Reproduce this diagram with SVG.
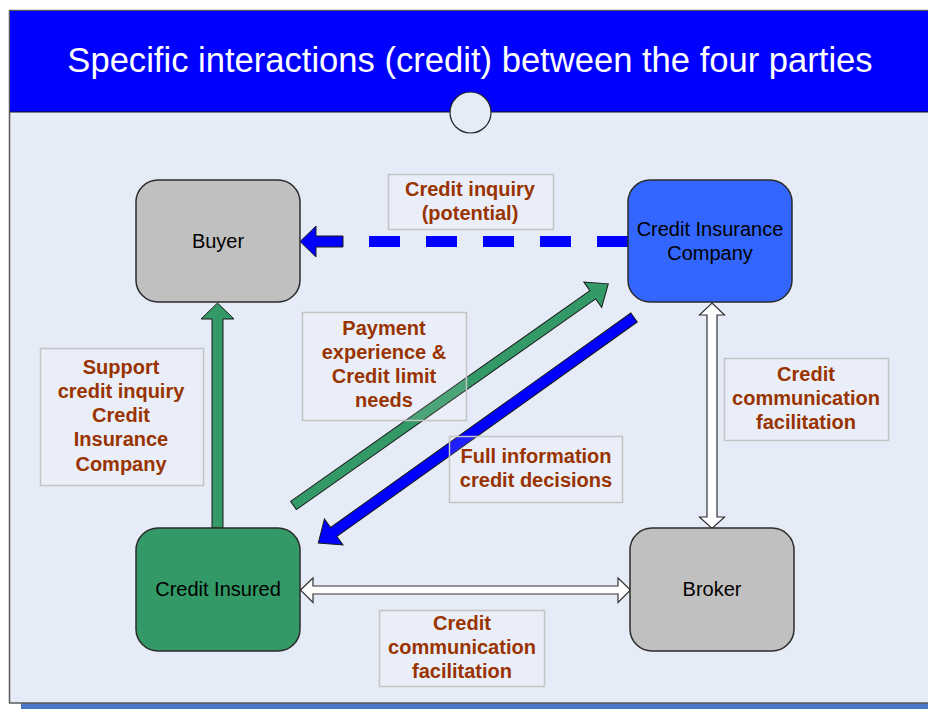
<svg xmlns="http://www.w3.org/2000/svg" width="928" height="709" viewBox="0 0 928 709">
  <style>
    .node { stroke: #2b2b2b; stroke-width: 1.5; }
    .nlabel { font-family: "Liberation Sans", Arial, sans-serif; font-size: 20px; fill: #000; text-anchor: middle; }
    .lbox { fill: #ffffff; fill-opacity: 0.12; stroke: #c4c4c4; stroke-width: 1.5; }
    .ltext { font-family: "Liberation Sans", Arial, sans-serif; font-size: 20px; font-weight: bold; fill: #993300; text-anchor: middle; }
    .outline { stroke: #1a1a1a; stroke-width: 1; stroke-linejoin: miter; }
    .hollow { fill: #ffffff; stroke: #333333; stroke-width: 1.2; }
  </style>

  <!-- page background -->
  <rect x="0" y="0" width="928" height="709" fill="#ffffff"/>
  <!-- slide shadow -->
  <rect x="21" y="703" width="907" height="6" fill="#4a78c4"/>
  <!-- slide body -->
  <rect x="9.5" y="10.5" width="930" height="692.5" fill="#e6ecf7" stroke="#5a5a5a" stroke-width="1.5"/>
  <!-- title bar -->
  <rect x="10" y="11" width="920" height="101" fill="#0000ff"/>
  <line x1="10" y1="112" x2="928" y2="112" stroke="#111" stroke-width="1"/>
  <text x="470" y="72" font-family="Liberation Sans, Arial, sans-serif" font-size="34.6" fill="#ffffff" text-anchor="middle">Specific interactions (credit) between the four parties</text>
  <ellipse cx="470.5" cy="112.5" rx="20.5" ry="20.5" fill="#e6ecf7" stroke="#222" stroke-width="1.2"/>

  <!-- connectors -->
  <g id="connectors">
    <!-- dashed inquiry arrow: Credit Insurance Company -> Buyer -->
    <line x1="628" y1="241.5" x2="343" y2="241.5" stroke="#0000ff" stroke-width="11" stroke-dasharray="31 26"/>
    <polygon class="outline" fill="#0000ff" points="300,241.5 316,226 316,236 343,236 343,247 316,247 316,257"/>

    <!-- Credit Insured -> Buyer -->
    <polygon class="outline" fill="#339966" points="217.5,303 234,319 223,319 223,528 212,528 212,319 201,319"/>

    <!-- Credit Insured -> Credit Insurance Company -->
    <path class="outline" fill="#339966" transform="translate(293.5,505.5) rotate(-35.15)" d="M0,-5 L366,-5 L366,-15.5 L385,0 L366,15.5 L366,5 L0,5 Z"/>

    <!-- Credit Insurance Company -> Credit Insured -->
    <path class="outline" fill="#0000ff" transform="translate(634,317.5) rotate(144.46)" d="M0,-5.5 L369,-5.5 L369,-16 L388,0 L369,16 L369,5.5 L0,5.5 Z"/>

    <!-- Credit Insurance Company <-> Broker -->
    <polygon class="hollow" points="712,303 724.5,315 717,315 717,517 724.5,517 712,528.5 699.5,517 707,517 707,315 699.5,315"/>

    <!-- Credit Insured <-> Broker -->
    <polygon class="hollow" points="300.5,590 313,578 313,586 618,586 618,578 630.5,590 618,602.5 618,594 313,594 313,602.5"/>
  </g>

  <!-- nodes -->
  <g id="buyer">
    <rect class="node" x="136" y="180" width="164" height="122" rx="22" fill="#c0c0c0"/>
    <text class="nlabel" x="218" y="248">Buyer</text>
  </g>
  <g id="credit-insurance-company">
    <rect class="node" x="628" y="180" width="164" height="122" rx="22" fill="#3366ff"/>
    <text class="nlabel" x="710" y="236">Credit Insurance</text>
    <text class="nlabel" x="710" y="260">Company</text>
  </g>
  <g id="credit-insured">
    <rect class="node" x="136" y="528" width="164" height="123" rx="22" fill="#339966"/>
    <text class="nlabel" x="218" y="596">Credit Insured</text>
  </g>
  <g id="broker">
    <rect class="node" x="630" y="528" width="164" height="123" rx="22" fill="#c0c0c0"/>
    <text class="nlabel" x="712" y="596">Broker</text>
  </g>

  <!-- connector labels -->
  <g id="label-inquiry">
    <rect class="lbox" x="388.5" y="174.5" width="165" height="55"/>
    <text class="ltext" x="470" y="196">Credit inquiry</text>
    <text class="ltext" x="470" y="220">(potential)</text>
  </g>
  <g id="label-payment">
    <rect class="lbox" x="302.5" y="312.5" width="164" height="108"/>
    <text class="ltext" x="384" y="335">Payment</text>
    <text class="ltext" x="384" y="359">experience &amp;</text>
    <text class="ltext" x="384" y="383">Credit limit</text>
    <text class="ltext" x="384" y="407">needs</text>
  </g>
  <g id="label-decisions">
    <rect class="lbox" x="449.5" y="436.5" width="173" height="66"/>
    <text class="ltext" x="536" y="463">Full information</text>
    <text class="ltext" x="536" y="487">credit decisions</text>
  </g>
  <g id="label-support">
    <rect class="lbox" x="40.5" y="348.5" width="163" height="137"/>
    <text class="ltext" x="121" y="374">Support</text>
    <text class="ltext" x="121" y="398">credit inquiry</text>
    <text class="ltext" x="121" y="422">Credit</text>
    <text class="ltext" x="121" y="446">Insurance</text>
    <text class="ltext" x="121" y="471">Company</text>
  </g>
  <g id="label-broker-side">
    <rect class="lbox" x="724.5" y="358.5" width="164" height="82"/>
    <text class="ltext" x="806" y="381">Credit</text>
    <text class="ltext" x="806" y="405">communication</text>
    <text class="ltext" x="806" y="429">facilitation</text>
  </g>
  <g id="label-bottom">
    <rect class="lbox" x="379.5" y="610.5" width="165" height="76"/>
    <text class="ltext" x="462" y="630">Credit</text>
    <text class="ltext" x="462" y="654">communication</text>
    <text class="ltext" x="462" y="678">facilitation</text>
  </g>
</svg>
